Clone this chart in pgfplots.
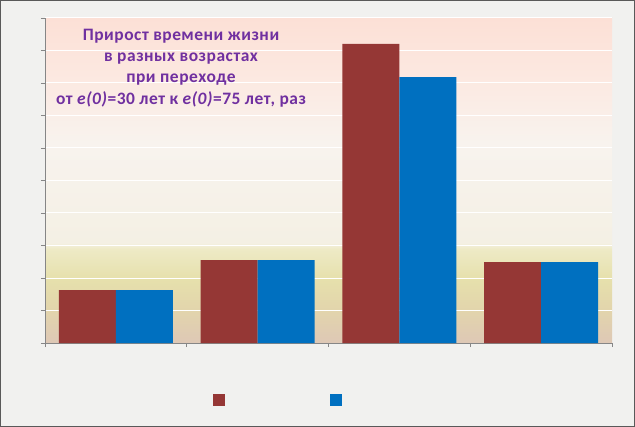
\documentclass[border=0pt]{standalone}
\usepackage{pgfplots}
\pgfplotsset{compat=1.18}
\usepackage{fontspec}
\setmainfont{Carlito}
\newfontfamily\ttlfont[LetterSpace=3]{Carlito}
\definecolor{barred}{RGB}{149,55,53}
\definecolor{barblue}{RGB}{0,112,192}
\definecolor{ttl}{RGB}{112,48,160}
\definecolor{axgray}{RGB}{134,134,134}
\definecolor{chartbg}{RGB}{241,241,239}
\definecolor{s0}{RGB}{222,200,182}
\definecolor{s1}{RGB}{226,212,172}
\definecolor{s2}{RGB}{230,224,172}
\definecolor{s3}{RGB}{238,234,198}
\definecolor{s4}{RGB}{244,240,228}
\definecolor{s5}{RGB}{248,243,238}
\definecolor{s6}{RGB}{252,232,224}
\definecolor{s7}{RGB}{252,224,214}
\pgfdeclareverticalshading{plotbg}{100bp}{color(0bp)=(s0); color(25bp)=(s0); color(29.9bp)=(s1); color(34.85bp)=(s2); color(39.5bp)=(s3); color(40.4bp)=(s4); color(55.8bp)=(s5); color(66.5bp)=(s6); color(75bp)=(s7); color(100bp)=(s7)}
\pgfplotsset{sqlegend/.style={legend image code/.code={\fill[##1] (0bp,-6bp) rectangle (12bp,6bp);}}}
\begin{document}
\begin{tikzpicture}
\useasboundingbox (-45bp,-84bp) rectangle (590bp,343bp);
\fill[chartbg] (-45bp,-84bp) rectangle (590bp,343bp);
\draw[gray!70!black,line width=1bp] (-44.5bp,-83.5bp) rectangle (589.5bp,342.5bp);
\begin{axis}[
  at={(0,0)}, anchor=south west,
  scale only axis, width=567bp, height=325bp,
  xmin=-0.5, xmax=3.5, ymin=0, ymax=10,
  axis background/.style={shade, shading=plotbg},
  axis lines*=left,
  axis line style={axgray, line width=0.8bp},
  xtick={-0.5,0.5,1.5,2.5,3.5}, xticklabels={},
  ytick={0,1,...,10}, yticklabels={},
  tick align=outside, major tick length=4bp,
  tick style={axgray, line width=0.8bp},
  ymajorgrids, grid style={white, line width=1bp},
  ybar=0pt, bar width=57bp,
  legend columns=2,
  sqlegend,
  legend style={draw=none, fill=none, at={(0.411,-0.175)}, anchor=center,
    nodes={inner sep=0pt}, column sep=0pt},
]
\addplot[fill=barred, draw=none] coordinates {(0,1.63) (1,2.55) (2,9.2) (3,2.49)};
\addlegendentry{\rule{105bp}{0pt}}
\addplot[fill=barblue, draw=none] coordinates {(0,1.63) (1,2.55) (2,8.18) (3,2.49)};
\addlegendentry{\rule{0bp}{0pt}}
\end{axis}
\node[align=center, text=ttl, font=\ttlfont\fontsize{17.5}{21.3}\selectfont\bfseries] at (136bp,275bp)
  {Прирост времени жизни\\в разных возрастах\\при переходе\\от \textit{e(0)}=30 лет к \textit{e(0)}=75 лет, раз};
\end{tikzpicture}
\end{document}
